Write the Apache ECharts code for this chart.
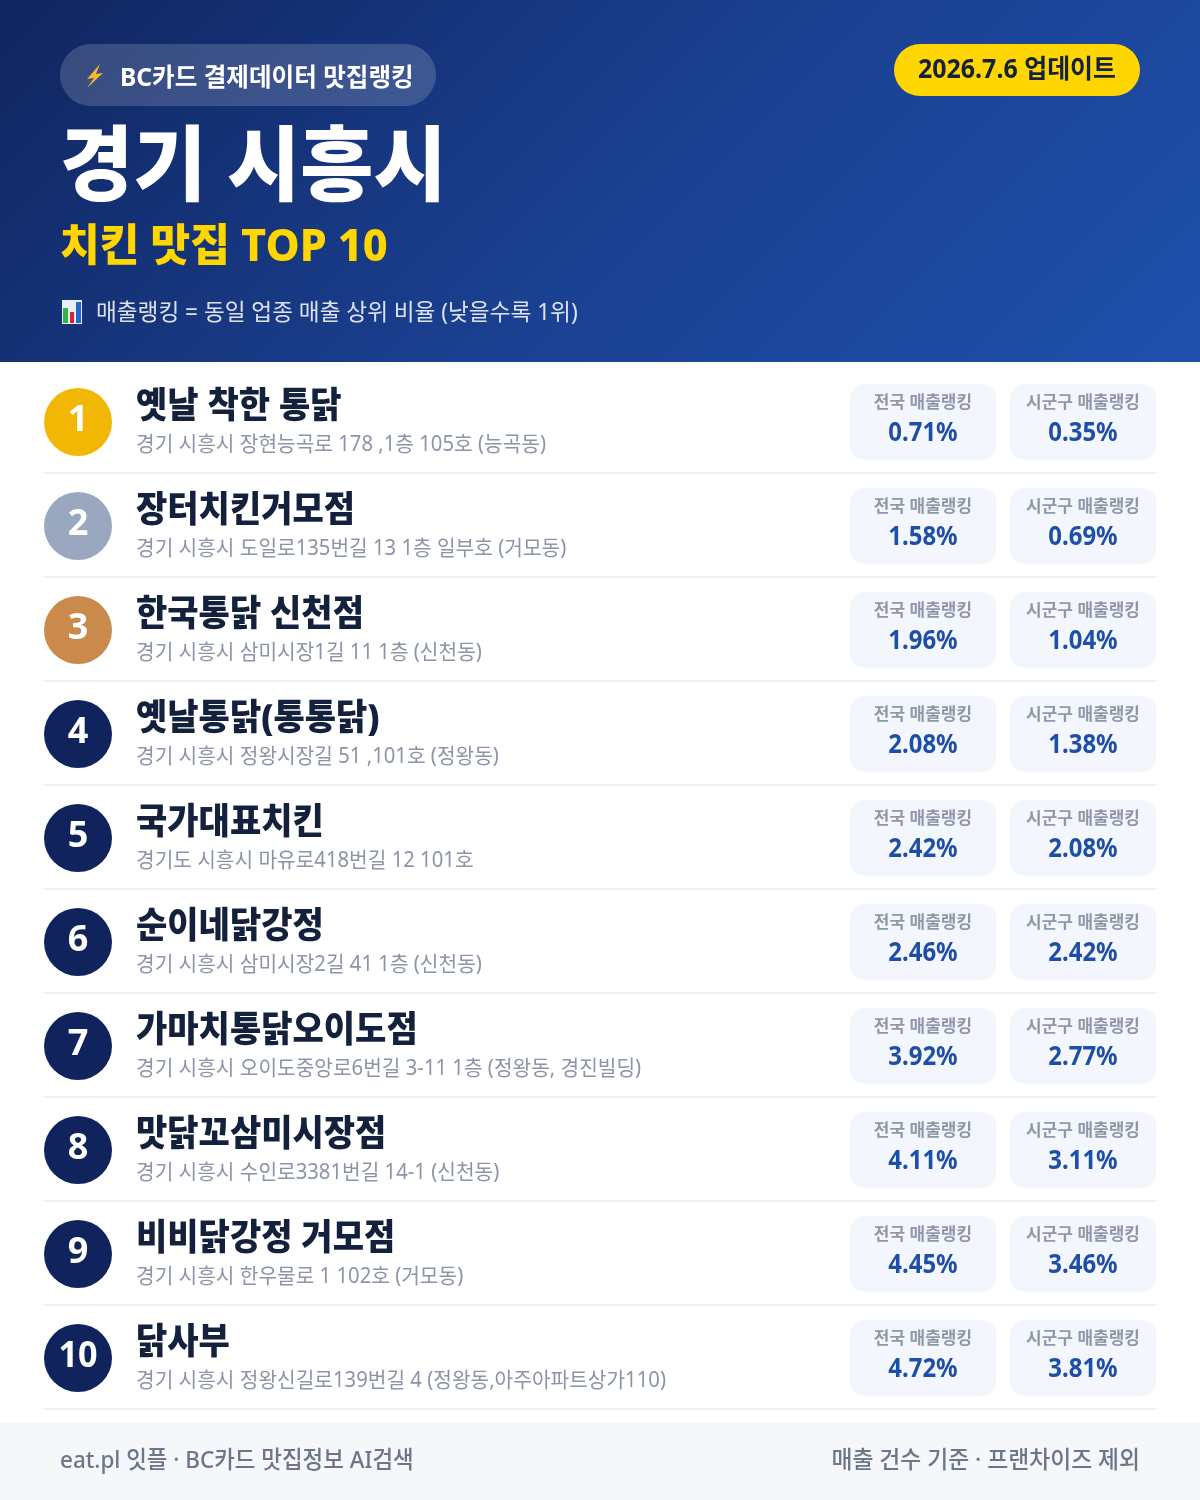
<!DOCTYPE html>
<html lang="ko"><head><meta charset="utf-8">
<style>html,body{margin:0;padding:0;background:#fff}#c{width:1200px;height:1500px}</style>
<script src="https://cdn.jsdelivr.net/npm/echarts@6/dist/echarts.min.js"></script>
</head><body><div id="c"></div>
<script>
const ranks = ['1','2','3','4','5','6','7','8','9','10'];
const names = ['옛날 착한 통닭','장터치킨거모점','한국통닭 신천점','옛날통닭(통통닭)','국가대표치킨','순이네닭강정','가마치통닭오이도점','맛닭꼬삼미시장점','비비닭강정 거모점','닭사부'];
const addresses = ['경기 시흥시 장현능곡로 178 ,1층 105호 (능곡동)','경기 시흥시 도일로135번길 13 1층 일부호 (거모동)','경기 시흥시 삼미시장1길 11 1층 (신천동)','경기 시흥시 정왕시장길 51 ,101호 (정왕동)','경기도 시흥시 마유로418번길 12 101호','경기 시흥시 삼미시장2길 41 1층 (신천동)','경기 시흥시 오이도중앙로6번길 3-11 1층 (정왕동, 경진빌딩)','경기 시흥시 수인로3381번길 14-1 (신천동)','경기 시흥시 한우물로 1 102호 (거모동)','경기 시흥시 정왕신길로139번길 4 (정왕동,아주아파트상가110)'];
const nationalRank = [0.71,1.58,1.96,2.08,2.42,2.46,3.92,4.11,4.45,4.72];
const districtRank = [0.35,0.69,1.04,1.38,2.08,2.42,2.77,3.11,3.46,3.81];
const medalColors = ['#f2b705','#9aa8bf','#c98a4b'];
const FONT = '"Noto Sans","Noto Sans CJK KR",sans-serif';

function txt(text, x, y, size, weight, fill, align, sx) {
  return {type:'text', x:x, y:y, scaleX:sx||1, scaleY:1, z2:5,
    style:{text:text, x:0, y:0, fontFamily:FONT, fontSize:size, fontWeight:weight, fill:fill, align:align||'left', verticalAlign:'middle'}};
}
function pill(x, y, w, h, r, fill) {
  return {type:'rect', shape:{x:x,y:y,width:w,height:h,r:r}, style:{fill:fill}, z2:1};
}
const chart = echarts.init(document.getElementById('c'), null, {renderer:'canvas', width:1200, height:1500});

function renderRow(params, api) {
  const i = api.value(0);
  const cy = api.coord([0, i])[1];
  const xAt = function (v) { return api.coord([v, i])[0]; };
  const fill = medalColors[i] || '#10235c';
  const els = [
    {type:'circle', shape:{cx:xAt(78), cy:cy, r:34}, style:{fill:fill}, z2:1},
    txt(ranks[i], xAt(78), cy-1, 36, 700, '#ffffff', 'center', i===9?0.95:1),
    txt(names[i], xAt(136), cy-14, 36, 900, '#14213d', 'left', 0.945),
    txt(addresses[i], xAt(136), cy+23, 21, 400, '#8b95a7', 'left', 0.965),
    pill(xAt(850), cy-38, 146, 76, 14, '#f3f6fd'),
    pill(xAt(1010), cy-38, 146, 76, 14, '#f3f6fd'),
    txt('전국 매출랭킹', xAt(923), cy-19, 17, 700, '#8f98a8', 'center', 1),
    txt('시군구 매출랭킹', xAt(1083), cy-19, 17, 700, '#8f98a8', 'center', 1),
    txt(nationalRank[i].toFixed(2)+'%', xAt(923), cy+12, 26, 700, '#1e4fa8', 'center', 0.92),
    txt(districtRank[i].toFixed(2)+'%', xAt(1083), cy+12, 26, 700, '#1e4fa8', 'center', 0.92),
    {type:'rect', shape:{x:xAt(44), y:cy+50, width:1112, height:2}, style:{fill:'#eef0f3'}, z2:1}
  ];
  return {type:'group', children:els};
}

chart.setOption({
  backgroundColor:'#ffffff',
  animation:false,
  grid:{left:0, top:370, width:1200, height:1040, containLabel:false},
  xAxis:{type:'value', min:0, max:1200, show:false},
  yAxis:{type:'category', data:ranks, inverse:true, show:false},
  tooltip:{show:false},
  series:[{type:'custom', coordinateSystem:'cartesian2d', silent:true, clip:false,
    data:ranks.map(function(r,i){return [i, nationalRank[i], districtRank[i]];}),
    encode:{x:1, y:0}, renderItem:renderRow}],
  graphic:{elements:[
    {type:'rect', shape:{x:0,y:0,width:1200,height:362}, z:0,
      style:{fill:new echarts.graphic.LinearGradient(209.5,-209.5,990.5,571.5,[{offset:0,color:'#10255f'},{offset:0.5,color:'#1a3f8f'},{offset:1,color:'#1e50ab'}],true)}},
    {type:'rect', shape:{x:60,y:44,width:376,height:62,r:31}, z:1, style:{fill:'rgba(255,255,255,0.17)'}},
    {type:'polygon', z:2, shape:{points:[[100,64],[87,79],[94,78],[87,88],[103,73],[96,74]]}, style:{fill:'#f5b82e'}},
    {type:'text', x:120, y:79, z:2, scaleX:0.983, style:{text:'BC카드 결제데이터 맛집랭킹', fontFamily:FONT, fontSize:25, fontWeight:700, fill:'#fff', verticalAlign:'middle'}},
    {type:'rect', shape:{x:894,y:44,width:246,height:52,r:26}, z:1, style:{fill:'#ffd600'}},
    {type:'text', x:1017, y:71, z:2, scaleX:0.96, style:{text:'2026.7.6 업데이트', fontFamily:FONT, fontSize:26, fontWeight:700, fill:'#14213d', align:'center', verticalAlign:'middle'}},
    {type:'text', x:60, y:171, z:2, scaleX:0.97, style:{text:'경기 시흥시', fontFamily:FONT, fontSize:82, fontWeight:900, fill:'#fff', verticalAlign:'middle'}},
    {type:'text', x:60, y:248, z:2, scaleX:0.98, style:{text:'치킨 맛집 TOP 10', fontFamily:FONT, fontSize:44, fontWeight:800, fill:'#ffd600', verticalAlign:'middle'}},
    {type:'rect', z:2, shape:{x:62,y:300,width:20,height:24}, style:{fill:'#e8eef5'}},
    {type:'rect', z:3, shape:{x:63,y:308,width:5,height:15}, style:{fill:'#2fb34a'}},
    {type:'rect', z:3, shape:{x:70,y:312,width:4,height:11}, style:{fill:'#d8242c'}},
    {type:'rect', z:3, shape:{x:76,y:302,width:5,height:21}, style:{fill:'#2469c4'}},
    {type:'text', x:96, y:313, z:2, scaleX:0.983, style:{text:'매출랭킹 = 동일 업종 매출 상위 비율 (낮을수록 1위)', fontFamily:FONT, fontSize:23, fontWeight:400, fill:'rgba(255,255,255,0.85)', verticalAlign:'middle'}},
    {type:'rect', shape:{x:0,y:1422,width:1200,height:78}, z:0, style:{fill:'#f5f7fb'}},
    {type:'text', x:60, y:1461, z:2, scaleX:0.935, style:{text:'eat.pl 잇플 · BC카드 맛집정보 AI검색', fontFamily:FONT, fontSize:24, fontWeight:500, fill:'#6b7688', verticalAlign:'middle'}},
    {type:'text', x:1140, y:1461, z:2, scaleX:0.95, style:{text:'매출 건수 기준 · 프랜차이즈 제외', fontFamily:FONT, fontSize:24, fontWeight:500, fill:'#6b7688', align:'right', verticalAlign:'middle'}}
  ]}
});
</script></body></html>
